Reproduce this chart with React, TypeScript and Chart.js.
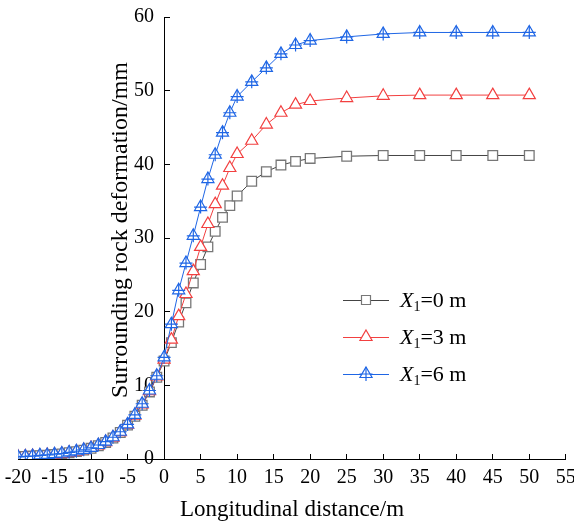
import { useEffect, useRef } from 'react';
import { Chart, registerables } from 'chart.js';

Chart.register(...registerables);

// Longitudinal distance (m)
const distance = [
  -20, -19, -18, -17, -16, -15, -14, -13, -12, -11, -10, -9, -8, -7, -6, -5, -4, -3, -2, -1, 0,
  1, 2, 3, 4, 5, 6, 7, 8, 9, 10, 12, 14, 16, 18, 20, 25, 30, 35, 40, 45, 50,
];

// Surrounding rock deformation (mm)
const deformX0 = [
  0.3, 0.35, 0.4, 0.45, 0.5, 0.6, 0.7, 0.85, 1.0, 1.2, 1.45, 1.8, 2.25, 2.85, 3.6, 4.6, 5.8, 7.3, 9.1, 11.1, 13.3,
  15.8, 18.6, 21.2, 23.9, 26.4, 28.8, 30.9, 32.8, 34.4, 35.7, 37.7, 39.0, 39.9, 40.4, 40.8, 41.1, 41.2, 41.2, 41.2, 41.2, 41.2,
];
const deformX3 = [
  0.3, 0.35, 0.4, 0.45, 0.55, 0.6, 0.7, 0.85, 1.0, 1.2, 1.5, 1.85, 2.3, 2.9, 3.65, 4.65, 5.9, 7.4, 9.2, 11.2, 13.5,
  16.2, 19.4, 22.4, 25.5, 28.8, 31.9, 34.6, 37.1, 39.5, 41.4, 43.2, 45.4, 47.0, 48.1, 48.6, 49.0, 49.3, 49.4, 49.4, 49.4, 49.4,
];
const deformX6 = [
  0.3, 0.35, 0.4, 0.5, 0.55, 0.65, 0.75, 0.9, 1.05, 1.25, 1.5, 1.9, 2.35, 2.95, 3.7, 4.7, 6.0, 7.5, 9.3, 11.3, 13.8,
  18.3, 22.9, 26.6, 30.3, 34.2, 38.0, 41.3, 44.3, 47.0, 49.2, 51.2, 53.1, 55.0, 56.2, 56.8, 57.3, 57.7, 57.9, 57.9, 57.9, 57.9,
];

const seriesOffsets = ['0', '3', '6'];
const xAxisTitle = 'Longitudinal distance/m';
const yAxisTitle = 'Surrounding rock deformation/mm';
const xRange = [-20, 55];
const xStep = 5;
const yRange = [0, 60];
const yStep = 10;

const FONT = '"Liberation Serif", "Times New Roman", serif';
const COL_BLACK_LINE = '#444444';
const COL_BLACK_MARK = '#777777';
const COL_RED = '#f24040';
const COL_BLUE = '#1f66e5';

const toPoints = (vals: number[]) => distance.map((x, i) => ({ x, y: vals[i] }));

const overlayPlugin = {
  id: 'overlay',
  afterDraw(chart: any) {
    const ctx = chart.ctx as CanvasRenderingContext2D;
    ctx.save();
    ctx.fillStyle = '#000';
    // x title
    ctx.font = `23px ${FONT}`;
    ctx.textAlign = 'center';
    ctx.textBaseline = 'middle';
    ctx.fillText(xAxisTitle, 292, 510);
    // y title
    ctx.save();
    ctx.translate(121, 230);
    ctx.rotate(-Math.PI / 2);
    ctx.font = `24px ${FONT}`;
    ctx.fillText(yAxisTitle, 0, 0);
    ctx.restore();

    // legend
    const rows = [300, 337, 374];
    const colors = [COL_BLACK_LINE, COL_RED, COL_BLUE];
    const markColors = [COL_BLACK_MARK, COL_RED, COL_BLUE];
    rows.forEach((ry, i) => {
      ctx.strokeStyle = colors[i];
      ctx.lineWidth = 1;
      ctx.beginPath();
      ctx.moveTo(343, ry + 0.5);
      ctx.lineTo(389, ry + 0.5);
      ctx.stroke();
      const cx = 366;
      ctx.strokeStyle = markColors[i];
      ctx.fillStyle = '#fff';
      ctx.lineWidth = 1.2;
      ctx.beginPath();
      if (i === 0) {
        ctx.rect(cx - 4.5, ry - 4.5, 9, 9);
      } else {
        const r = 7;
        ctx.moveTo(cx, ry - r);
        ctx.lineTo(cx + 0.866 * r, ry + r / 2);
        ctx.lineTo(cx - 0.866 * r, ry + r / 2);
        ctx.closePath();
      }
      ctx.fill();
      ctx.stroke();
      if (i === 2) {
        ctx.beginPath();
        ctx.moveTo(cx, ry - 7);
        ctx.lineTo(cx, ry + 7);
        ctx.moveTo(cx - 6.5, ry);
        ctx.lineTo(cx + 6.5, ry);
        ctx.stroke();
      }
      // text
      ctx.fillStyle = '#000';
      ctx.textAlign = 'left';
      ctx.textBaseline = 'alphabetic';
      const base = ry + 7;
      let tx = 400;
      ctx.font = `italic 22px ${FONT}`;
      ctx.fillText('X', tx, base);
      tx += ctx.measureText('X').width;
      ctx.font = `14px ${FONT}`;
      ctx.fillText('1', tx, base + 4);
      tx += ctx.measureText('1').width;
      ctx.font = `22px ${FONT}`;
      ctx.fillText(`=${seriesOffsets[i]} m`, tx, base);
    });
    ctx.restore();
  },
};

export default function App() {
  const ref = useRef<HTMLCanvasElement | null>(null);

  useEffect(() => {
    if (!ref.current) return;
    const tickFont = { family: FONT, size: 20 };
    const zeroPad = (s: any) => {
      s.paddingLeft = 0;
      s.paddingRight = 0;
      s.paddingTop = 0;
      s.paddingBottom = 0;
    };
    const chart = new Chart(ref.current, {
      type: 'line',
      data: {
        datasets: [
          {
            label: `X1=${seriesOffsets[0]} m`,
            data: toPoints(deformX0),
            borderColor: COL_BLACK_LINE,
            borderWidth: 1,
            pointStyle: 'rect',
            pointRadius: 6.8,
            pointBorderColor: COL_BLACK_MARK,
            pointBackgroundColor: '#ffffff',
            pointBorderWidth: 1.3,
            order: 3,
          },
          {
            label: `X1=${seriesOffsets[1]} m`,
            data: toPoints(deformX3),
            borderColor: COL_RED,
            borderWidth: 1,
            pointStyle: 'triangle',
            pointRadius: 7,
            pointBorderColor: COL_RED,
            pointBackgroundColor: '#ffffff',
            pointBorderWidth: 1.2,
            order: 2,
          },
          {
            label: `X1=${seriesOffsets[2]} m`,
            data: toPoints(deformX6),
            borderColor: COL_BLUE,
            borderWidth: 1,
            pointStyle: 'triangle',
            pointRadius: 7,
            pointBorderColor: COL_BLUE,
            pointBackgroundColor: '#ffffff',
            pointBorderWidth: 1.2,
            order: 1,
          },
          {
            label: 'cross',
            data: toPoints(deformX6),
            showLine: false,
            pointStyle: 'cross',
            pointRadius: 6.5,
            pointBorderColor: COL_BLUE,
            pointBorderWidth: 1.2,
            order: 0,
          },
        ],
      },
      options: {
        animation: false,
        responsive: false,
        events: [],
        layout: { padding: { left: 18, right: 8, top: 17, bottom: 63 } },
        plugins: { legend: { display: false }, tooltip: { enabled: false }, title: { display: false } },
        scales: {
          x: {
            type: 'linear',
            min: xRange[0],
            max: xRange[1],
            position: { y: 0 },
            afterFit: (s: any) => {
              s.height = 0;
              zeroPad(s);
            },
            ticks: {
              stepSize: xStep,
              color: '#000',
              font: tickFont,
              padding: 13,
              maxRotation: 0,
              autoSkip: false,
            },
            grid: { drawOnChartArea: false, drawTicks: true, tickLength: -6, color: '#000', lineWidth: 1 },
            border: { display: true, color: '#000', width: 1 },
          },
          y: {
            type: 'linear',
            min: yRange[0],
            max: yRange[1],
            position: { x: 0 },
            afterFit: (s: any) => {
              s.width = 0;
              zeroPad(s);
            },
            ticks: {
              stepSize: yStep,
              color: '#000',
              font: tickFont,
              callback: (v: any) => `${v}\u2002`,
            },
            grid: { drawOnChartArea: false, drawTicks: true, tickLength: -6, color: '#000', lineWidth: 1 },
            border: { display: true, color: '#000', width: 1 },
          },
        },
      },
      plugins: [overlayPlugin],
    } as any);
    return () => chart.destroy();
  }, []);

  return (
    <canvas
      ref={ref}
      width={574}
      height={522}
      style={{ position: 'absolute', left: 0, top: 0, width: 574, height: 522, display: 'block' }}
    />
  );
}
